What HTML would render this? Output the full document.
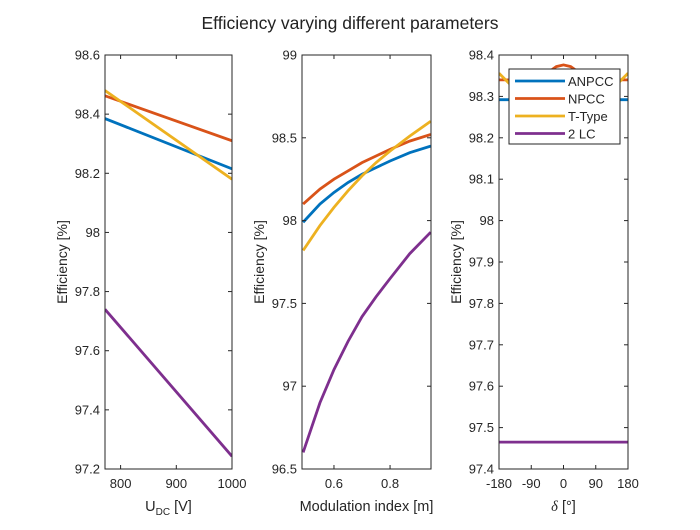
<!DOCTYPE html>
<html><head><meta charset="utf-8"><style>
body{margin:0;background:#fff}
svg{font-family:"Liberation Sans",Arial,sans-serif}
</style></head><body>
<svg id="fig" width="700" height="525" viewBox="0 0 700 525">
<rect width="700" height="525" fill="#fff"/>
<text x="350" y="29" font-size="17.5" text-anchor="middle" fill="#222">Efficiency varying different parameters</text>
</svg>
<script>
const seriesNames=["ANPCC","NPCC","T-Type","2 LC"];
const colors=["#0072BD","#D95319","#EDB120","#7E2F8E"];
// Plot 1: U_DC
const udcX=[772,1000];
const udcANPCC=[98.385,98.215];
const udcNPCC=[98.462,98.31];
const udcTType=[98.48,98.18];
const udc2LC=[97.74,97.243];
const udcXTicks=[800,900,1000];
const udcYTicks=[97.2,97.4,97.6,97.8,98,98.2,98.4,98.6];
// Plot 2: modulation index
const mX=[0.49,0.55,0.6,0.65,0.7,0.75,0.8,0.87,0.945];
const mANPCC=[97.99,98.1,98.17,98.23,98.28,98.32,98.36,98.41,98.45];
const mNPCC=[98.1,98.19,98.25,98.3,98.35,98.39,98.43,98.48,98.52];
const mTType=[97.82,97.97,98.08,98.18,98.27,98.35,98.42,98.51,98.6];
const m2LC=[96.6,96.9,97.1,97.27,97.42,97.54,97.65,97.8,97.93];
const mXTicks=[0.6,0.8];
const mYTicks=[96.5,97,97.5,98,98.5,99];
// Plot 3: delta
const dX=[-180,-150,-120,-90,-60,-40,-20,0,20,40,60,90,120,150,180];
const dANPCC=[98.292,98.292,98.292,98.292,98.292,98.292,98.292,98.292,98.292,98.292,98.292,98.292,98.292,98.292,98.292];
const dNPCC=[98.34,98.34,98.34,98.34,98.345,98.36,98.372,98.376,98.372,98.36,98.345,98.34,98.34,98.34,98.34];
const dTType=[98.356,98.33,98.3,98.28,98.27,98.265,98.26,98.26,98.26,98.265,98.27,98.28,98.3,98.33,98.356];
const d2LC=[97.465,97.465,97.465,97.465,97.465,97.465,97.465,97.465,97.465,97.465,97.465,97.465,97.465,97.465,97.465];
const dXTicks=[-180,-90,0,90,180];
const dYTicks=[97.4,97.5,97.6,97.7,97.8,97.9,98,98.1,98.2,98.3,98.4];

const NS="http://www.w3.org/2000/svg";
const svg=document.getElementById('fig');
function mk(tag,attrs,parent){const e=document.createElementNS(NS,tag);for(const k in attrs)e.setAttribute(k,attrs[k]);(parent||svg).appendChild(e);return e;}
const TOP=55,BOT=469;
function panel(id,L,R,xmin,xmax,ymin,ymax,xs,ys,xTicks,yTicks,yFmt,xlabel,legend){
  const g=mk('g',{});
  
  
  const sx=v=>L+(v-xmin)/(xmax-xmin)*(R-L);
  const sy=v=>BOT-(v-ymin)/(ymax-ymin)*(BOT-TOP);
  mk('rect',{x:L,y:TOP,width:R-L,height:BOT-TOP,fill:'#fff'},g);
  const cp=mk('clipPath',{id:id+'clip'},g);
  mk('rect',{x:L,y:TOP,width:R-L,height:BOT-TOP},cp);
  ys.forEach((arr,i)=>{
    const p=mk('polyline',{points:arr.map((v,j)=>sx(xs[j])+','+sy(v)).join(' '),fill:'none',stroke:colors[i],'stroke-width':2.8,'clip-path':'url(#'+id+'clip)'},g);
    
    
  });
  mk('rect',{x:L,y:TOP,width:R-L,height:BOT-TOP,fill:'none',stroke:'#262626','stroke-width':1},g);
  xTicks.forEach(t=>{
    const x=sx(t);
    mk('line',{x1:x,y1:BOT,x2:x,y2:BOT-4,stroke:'#262626'},g);
    mk('line',{x1:x,y1:TOP,x2:x,y2:TOP+4,stroke:'#262626'},g);
    const tx=mk('text',{x:x,y:BOT+19,'font-size':13,'text-anchor':'middle',fill:'#262626'},g);
    tx.textContent=t;
    
    
  });
  yTicks.forEach(t=>{
    const y=sy(t);
    mk('line',{x1:L,y1:y,x2:L+4,y2:y,stroke:'#262626'},g);
    mk('line',{x1:R,y1:y,x2:R-4,y2:y,stroke:'#262626'},g);
    const tx=mk('text',{x:L-5,y:y+4.5,'font-size':13,'text-anchor':'end',fill:'#262626'},g);
    tx.textContent=yFmt(t);
    
    
  });
  const yl=mk('text',{x:0,y:0,'font-size':14,'text-anchor':'middle',fill:'#262626',transform:'translate('+(L-38)+','+((TOP+BOT)/2)+') rotate(-90)'},g);
  yl.textContent='Efficiency [%]';
  
  
  const xl=mk('text',{x:(L+R)/2,y:BOT+42,'font-size':14.5,'text-anchor':'middle',fill:'#262626'},g);
  xl.innerHTML=xlabel;
  
  
  if(legend){
    const lg=mk('g',{},g);
    
    
    mk('rect',{x:509,y:69,width:111,height:75,fill:'#fff',stroke:'#262626'},lg);
    seriesNames.forEach((n,i)=>{
      const y=81+i*17.5;
      const e=mk('g',{},lg);
      
      
      mk('line',{x1:515,y1:y,x2:565,y2:y,stroke:colors[i],'stroke-width':2.8},e);
      const t=mk('text',{x:568,y:y+5,'font-size':13,fill:'#262626'},e);
      t.textContent=n;
    });
  }
}
panel('udc',105,232,772,1000,97.2,98.6,udcX,[udcANPCC,udcNPCC,udcTType,udc2LC],udcXTicks,udcYTicks,v=>(Math.round(v*10)/10).toString(),'U<tspan font-size="10" dy="4">DC</tspan><tspan dy="-4"> [V]</tspan>',false);
panel('mod',302,431,0.486,0.946,96.5,99,mX,[mANPCC,mNPCC,mTType,m2LC],mXTicks,mYTicks,v=>(Math.round(v*10)/10).toString(),'Modulation index [m]',false);
panel('delta',499,628,-180,180,97.4,98.4,dX,[dANPCC,dNPCC,dTType,d2LC],dXTicks,dYTicks,v=>(Math.round(v*10)/10).toString(),'<tspan font-family="Liberation Serif" font-style="italic">δ</tspan> [°]',true);
</script>
</body></html>
